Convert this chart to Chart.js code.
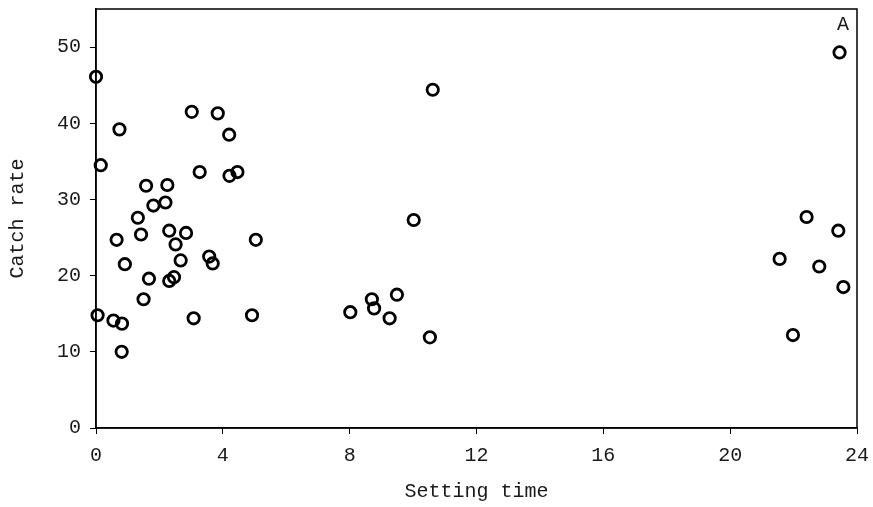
<!DOCTYPE html>
<html>
<head>
<meta charset="utf-8">
<script src="https://cdn.jsdelivr.net/npm/chart.js@4/dist/chart.umd.min.js"></script>
<style>
  html, body { margin: 0; padding: 0; background: #fff; }
  #wrap { width: 873px; height: 507px; }
</style>
</head>
<body>
<div id="wrap"><canvas id="scatterChart"></canvas></div>
<script>
// setting time (h) vs catch rate
const settingTime = [
    0.0, 0.74, 3.02, 3.84, 4.20, 0.15, 3.27, 4.21, 4.46,
    1.58, 2.25, 1.81, 2.19, 1.32, 0.65, 1.42, 2.31, 2.84, 2.51,
    0.91, 2.67, 3.57, 3.68, 5.04, 1.67, 2.31, 2.46, 1.50, 0.05,
    0.55, 0.82, 3.08, 4.92, 0.81,
    10.02, 9.49, 8.70, 8.77, 8.02, 9.26, 10.53, 10.62,
    23.45, 22.41, 23.41, 21.56, 22.81, 23.57, 21.98
];
const catchRate = [
    46.1, 39.2, 41.5, 41.3, 38.5, 34.5, 33.6, 33.1, 33.6,
    31.8, 31.9, 29.2, 29.6, 27.6, 24.7, 25.4, 25.9, 25.6, 24.1,
    21.5, 22.0, 22.5, 21.6, 24.7, 19.6, 19.3, 19.8, 16.9, 14.8,
    14.1, 13.7, 14.4, 14.8, 10.0,
    27.3, 17.5, 16.9, 15.7, 15.2, 14.4, 11.9, 44.4,
    49.3, 27.7, 25.9, 22.2, 21.2, 18.5, 12.2
];
const xTicks = [0, 4, 8, 12, 16, 20, 24];
const yTicks = [0, 10, 20, 30, 40, 50];
const xTitle = 'Setting time';
const yTitle = 'Catch rate';
const panelLabel = 'A';

const FONT = '"Courier New", "Liberation Mono", monospace';
const INK = '#1a1a1a';

// box around the plot + panel letter
const framePlugin = {
    id: 'frame',
    afterDraw(chart) {
        const a = chart.chartArea;
        const ctx = chart.ctx;
        ctx.save();
        ctx.strokeStyle = '#000';
        ctx.lineWidth = 1.5;
        ctx.strokeRect(a.left, a.top, a.right - a.left, a.bottom - a.top);
        ctx.fillStyle = INK;
        ctx.font = '20px ' + FONT;
        ctx.textAlign = 'center';
        ctx.textBaseline = 'middle';
        ctx.fillText(panelLabel, a.right - 14, a.top + 16);
        ctx.restore();
    }
};

const points = settingTime.map((x, i) => ({ x: x, y: catchRate[i] }));

new Chart(document.getElementById('scatterChart'), {
    type: 'scatter',
    data: {
        datasets: [{
            data: points,
            pointStyle: 'circle',
            pointRadius: 5.7,
            pointHoverRadius: 5.7,
            borderWidth: 2.8,
            borderColor: '#000',
            backgroundColor: 'rgba(0,0,0,0)',
            clip: false
        }]
    },
    options: {
        responsive: true,
        maintainAspectRatio: false,
        animation: false,
        layout: { padding: { left: 6, right: 16, top: 9, bottom: 3 } },
        plugins: { legend: { display: false }, tooltip: { enabled: false } },
        scales: {
            x: {
                type: 'linear',
                min: 0,
                max: 24,
                afterBuildTicks: (s) => { s.ticks = xTicks.map(v => ({ value: v })); },
                afterFit: (s) => { s.height = 76; s.paddingLeft = 0; s.paddingRight = 0; },
                grid: { drawOnChartArea: false, tickLength: 6, color: '#000', lineWidth: 1 },
                border: { display: true, color: '#000', width: 1.5 },
                ticks: { color: INK, padding: 10, maxRotation: 0, font: { family: FONT, size: 20 } },
                title: { display: true, text: xTitle, color: INK, padding: 0, font: { family: FONT, size: 20 } }
            },
            y: {
                type: 'linear',
                min: 0,
                max: 55,
                afterBuildTicks: (s) => { s.ticks = yTicks.map(v => ({ value: v })); },
                afterFit: (s) => { s.width = 90; s.paddingTop = 0; s.paddingBottom = 0; },
                grid: { drawOnChartArea: false, tickLength: 6, color: '#000', lineWidth: 1 },
                border: { display: true, color: '#000', width: 1.5 },
                ticks: { color: INK, padding: 9, font: { family: FONT, size: 20 } },
                title: { display: true, text: yTitle, color: INK, padding: 0, font: { family: FONT, size: 20 } }
            }
        }
    },
    plugins: [framePlugin]
});
</script>
</body>
</html>
